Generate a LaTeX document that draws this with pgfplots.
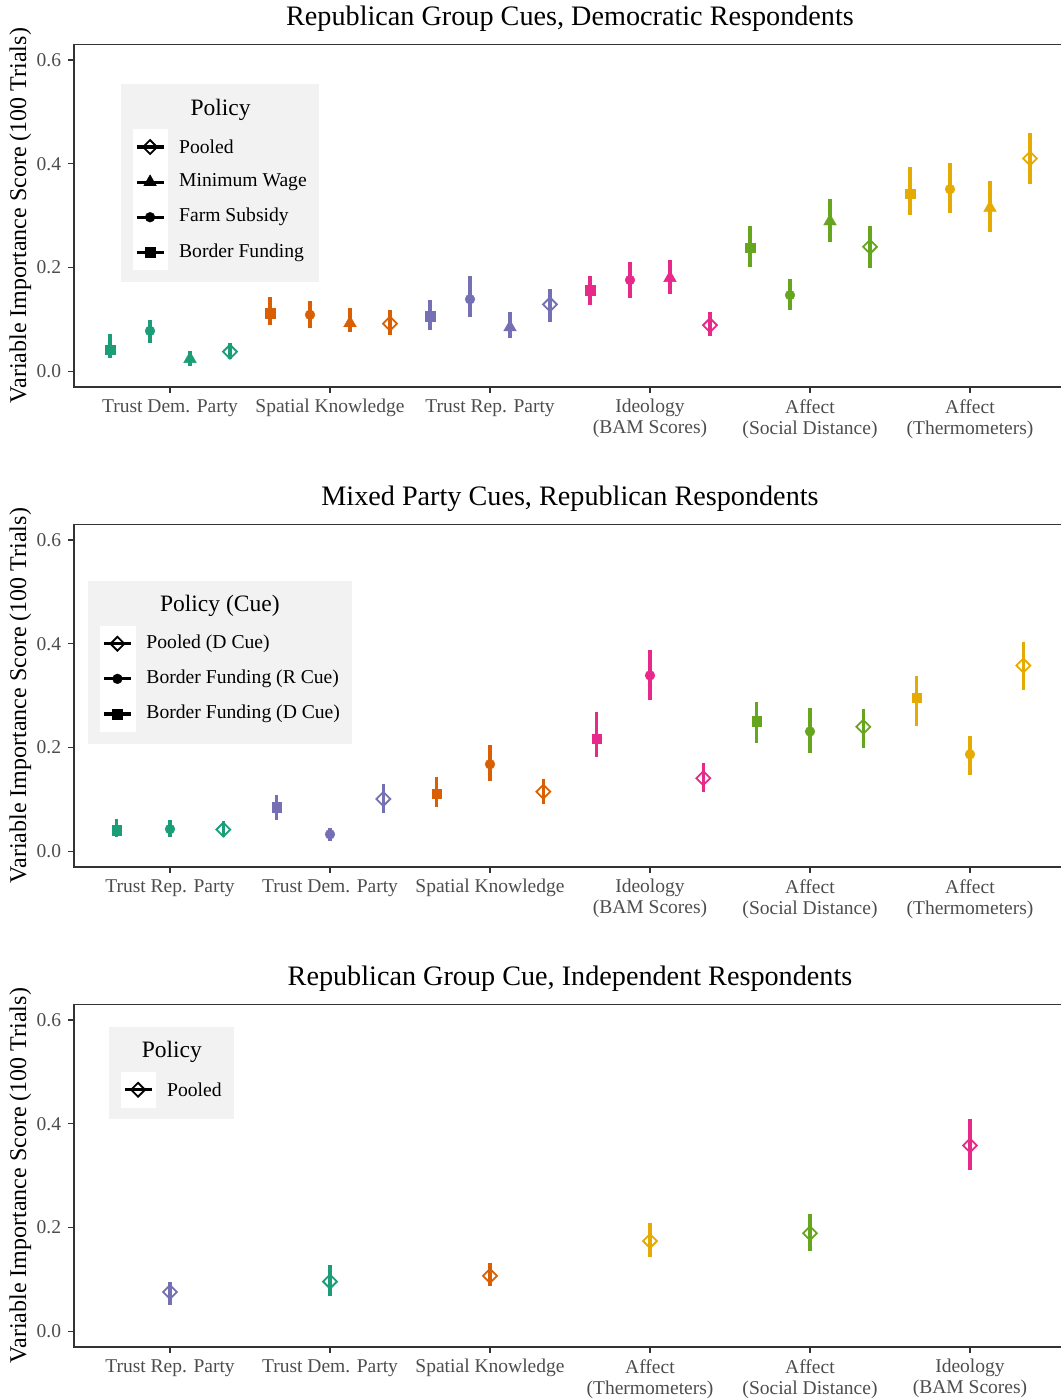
\documentclass[border=0pt]{standalone}
\usepackage{fontspec}
\setmainfont{Liberation Serif}
\usepackage{pgfplots}
\pgfplotsset{compat=1.18}

\definecolor{c1}{HTML}{1B9E77}
\definecolor{c2}{HTML}{D95F02}
\definecolor{c3}{HTML}{7570B3}
\definecolor{c4}{HTML}{E7298A}
\definecolor{c5}{HTML}{66A61E}
\definecolor{c6}{HTML}{E6AB02}
\definecolor{axgray}{HTML}{333333}
\definecolor{tkgray}{HTML}{4D4D4D}
\definecolor{legbg}{HTML}{F2F2F2}

\newcommand{\tickfont}{\fontsize{19.6}{21}\selectfont}
\newcommand{\legfont}{\fontsize{19.7}{22}\selectfont}
\newcommand{\ttlfont}{\fontsize{23.6}{28}\selectfont}
\newcommand{\ylabfont}{\fontsize{24.1}{28}\selectfont}
\newcommand{\mainttl}{\fontsize{28.3}{34}\selectfont}

\tikzset{
  msq/.style={mark=square*, mark size=4.8bp, mark options={line width=0.4bp}},
  mci/.style={mark=*, mark size=4.9bp, mark options={line width=0.4bp}},
  mtr/.style={mark=triangle*, mark size=7.3bp, mark options={line width=0.4bp}},
  mdi/.style={mark=square, mark size=4.9bp, mark options={rotate=45, line width=1.8bp, fill=none}},
}

\pgfplotsset{
  gg/.style={
    scale only axis, width=992bp, height=342.7bp,
    xmin=0.4, xmax=6.6, ymin=-0.03, ymax=0.63,
    xtick={1,2,3,4,5,6}, ytick={0,0.2,0.4,0.6},
    xtick pos=left, ytick pos=left,
    tick align=outside, major tick length=5.7bp,
    axis line style={color=axgray, line width=1.3bp},
    tick style={color=axgray, line width=1.3bp},
    xticklabel style={align=center, font=\tickfont, text=tkgray, inner sep=0pt, anchor=north, yshift=-6.5bp},
    yticklabel style={font=\tickfont, text=tkgray, inner sep=0pt, anchor=east, xshift=-7bp,
      /pgf/number format/fixed, /pgf/number format/fixed zerofill,
      /pgf/number format/precision=1, /pgf/number format/assume math mode=true},
    ylabel={Variable Importance Score (100 Trials)},
    ylabel style={font=\ylabfont, inner sep=0pt, at={(axis description cs:-0.0429,0.5)}, anchor=south},
    title style={font=\mainttl, inner sep=0pt, at={(axis description cs:0.5,1)}, anchor=base, yshift=13.3bp},
    legend cell align=left,
    legend style={anchor=north west, draw=none, fill=legbg, inner xsep=12bp, inner ysep=12bp,
      row sep=0pt, column sep=11.5bp, nodes={inner sep=0pt, text depth=}, font=\legfont},
  },
  lkey/.style={legend image code/.code={%
      \fill[white] (-17.35bp,-17.35bp) rectangle (17.35bp,17.35bp);%
      \draw[black,line width=3.2bp] (-13.5bp,0pt) -- (13.5bp,0pt);%
      \draw[black,#1] plot coordinates {(0pt,0pt)};}},
}

% one point with its interval: colour, marker, x, y, low, high
\newcommand{\pr}[6]{%
  \addplot[#1, #2, only marks, forget plot,
    error bars/.cd, y dir=both, y explicit, error mark=none,
    error bar style={line width=3.5bp}]
    table[row sep=\\, x=x, y=y,
      y error plus expr=\thisrow{hi}-\thisrow{y},
      y error minus expr=\thisrow{y}-\thisrow{lo}]
    {x y lo hi\\ #3 #4 #5 #6\\};}

\begin{document}
\begin{tikzpicture}
\path[use as bounding box] (0,0) rectangle (1061bp,1399bp);

% ---------------- Panel 1 ----------------
\begin{axis}[gg, at={(74bp,1012bp)}, anchor=south west,
  title={Republican Group Cues, Democratic Respondents},
  xticklabels={{Trust Dem. Party},{Spatial Knowledge},{Trust Rep. Party},{Ideology\\(BAM Scores)},{Affect\\(Social Distance)},{Affect\\(Thermometers)}},
  legend style={at={(0.0467,0.8833)}}]
\addlegendimage{empty legend}
\addlegendentry{\ttlfont\rule[-14.3bp]{0pt}{33bp}\hspace*{11.4bp}Policy}
\addlegendimage{lkey={mdi}}\addlegendentry{Pooled}
\addlegendimage{lkey={mtr}}\addlegendentry{Minimum Wage}
\addlegendimage{lkey={mci}}\addlegendentry{Farm Subsidy}
\addlegendimage{lkey={msq}}\addlegendentry{Border Funding}
% Trust Dem. Party
\pr{c1}{msq}{0.625}{0.042}{0.026}{0.073}
\pr{c1}{mci}{0.875}{0.078}{0.055}{0.099}
\pr{c1}{mtr}{1.125}{0.024}{0.011}{0.040}
\pr{c1}{mdi}{1.375}{0.038}{0.023}{0.054}
% Spatial Knowledge
\pr{c2}{msq}{1.625}{0.112}{0.089}{0.144}
\pr{c2}{mci}{1.875}{0.109}{0.084}{0.135}
\pr{c2}{mtr}{2.125}{0.093}{0.076}{0.122}
\pr{c2}{mdi}{2.375}{0.092}{0.071}{0.118}
% Trust Rep. Party
\pr{c3}{msq}{2.625}{0.106}{0.079}{0.137}
\pr{c3}{mci}{2.875}{0.139}{0.105}{0.183}
\pr{c3}{mtr}{3.125}{0.085}{0.065}{0.115}
\pr{c3}{mdi}{3.375}{0.129}{0.096}{0.158}
% Ideology
\pr{c4}{msq}{3.625}{0.156}{0.127}{0.184}
\pr{c4}{mci}{3.875}{0.176}{0.142}{0.211}
\pr{c4}{mtr}{4.125}{0.180}{0.149}{0.215}
\pr{c4}{mdi}{4.375}{0.089}{0.069}{0.114}
% Affect (Social Distance)
\pr{c5}{msq}{4.625}{0.238}{0.201}{0.280}
\pr{c5}{mci}{4.875}{0.147}{0.119}{0.178}
\pr{c5}{mtr}{5.125}{0.289}{0.250}{0.333}
\pr{c5}{mdi}{5.375}{0.240}{0.199}{0.280}
% Affect (Thermometers)
\pr{c6}{msq}{5.625}{0.342}{0.302}{0.393}
\pr{c6}{mci}{5.875}{0.351}{0.305}{0.401}
\pr{c6}{mtr}{6.125}{0.315}{0.268}{0.367}
\pr{c6}{mdi}{6.375}{0.410}{0.360}{0.459}
\end{axis}

% ---------------- Panel 2 ----------------
\begin{axis}[gg, at={(74bp,532bp)}, anchor=south west,
  title={Mixed Party Cues, Republican Respondents},
  xticklabels={{Trust Rep. Party},{Trust Dem. Party},{Spatial Knowledge},{Ideology\\(BAM Scores)},{Affect\\(Social Distance)},{Affect\\(Thermometers)}},
  legend style={at={(0.0138,0.8345)}}]
\addlegendimage{empty legend}
\addlegendentry{\ttlfont\rule[-14.3bp]{0pt}{33bp}\hspace*{13.6bp}Policy (Cue)}
\addlegendimage{lkey={mdi}}\addlegendentry{Pooled (D Cue)}
\addlegendimage{lkey={mci}}\addlegendentry{Border Funding (R Cue)}
\addlegendimage{lkey={msq}}\addlegendentry{Border Funding (D Cue)}
% Trust Rep. Party
\pr{c1}{msq}{0.6667}{0.041}{0.028}{0.062}
\pr{c1}{mci}{1.0}{0.043}{0.028}{0.060}
\pr{c1}{mdi}{1.3333}{0.042}{0.028}{0.058}
% Trust Dem. Party
\pr{c3}{msq}{1.6667}{0.085}{0.061}{0.108}
\pr{c3}{mci}{2.0}{0.033}{0.021}{0.046}
\pr{c3}{mdi}{2.3333}{0.101}{0.074}{0.130}
% Spatial Knowledge
\pr{c2}{msq}{2.6667}{0.111}{0.085}{0.144}
\pr{c2}{mci}{3.0}{0.168}{0.135}{0.204}
\pr{c2}{mdi}{3.3333}{0.115}{0.092}{0.140}
% Ideology
\pr{c4}{msq}{3.6667}{0.217}{0.181}{0.269}
\pr{c4}{mci}{4.0}{0.339}{0.292}{0.387}
\pr{c4}{mdi}{4.3333}{0.141}{0.114}{0.171}
% Affect (Social Distance)
\pr{c5}{msq}{4.6667}{0.251}{0.209}{0.288}
\pr{c5}{mci}{5.0}{0.231}{0.189}{0.277}
\pr{c5}{mdi}{5.3333}{0.240}{0.200}{0.274}
% Affect (Thermometers)
\pr{c6}{msq}{5.6667}{0.296}{0.242}{0.338}
\pr{c6}{mci}{6.0}{0.187}{0.147}{0.222}
\pr{c6}{mdi}{6.3333}{0.358}{0.311}{0.404}
\end{axis}

% ---------------- Panel 3 ----------------
\begin{axis}[gg, at={(74bp,52bp)}, anchor=south west,
  title={Republican Group Cue, Independent Respondents},
  xticklabels={{Trust Rep. Party},{Trust Dem. Party},{Spatial Knowledge},{Affect\\(Thermometers)},{Affect\\(Social Distance)},{Ideology\\(BAM Scores)}},
  legend style={at={(0.0346,0.9338)}}]
\addlegendimage{empty legend}
\addlegendentry{\ttlfont\rule[-14.3bp]{0pt}{33bp}\hspace*{-25.3bp}Policy}
\addlegendimage{lkey={mdi}}\addlegendentry{Pooled}
\pr{c3}{mdi}{1}{0.076}{0.050}{0.095}
\pr{c1}{mdi}{2}{0.096}{0.069}{0.127}
\pr{c2}{mdi}{3}{0.107}{0.087}{0.132}
\pr{c6}{mdi}{4}{0.174}{0.143}{0.208}
\pr{c5}{mdi}{5}{0.189}{0.154}{0.227}
\pr{c4}{mdi}{6}{0.358}{0.310}{0.410}
\end{axis}
\end{tikzpicture}
\end{document}
